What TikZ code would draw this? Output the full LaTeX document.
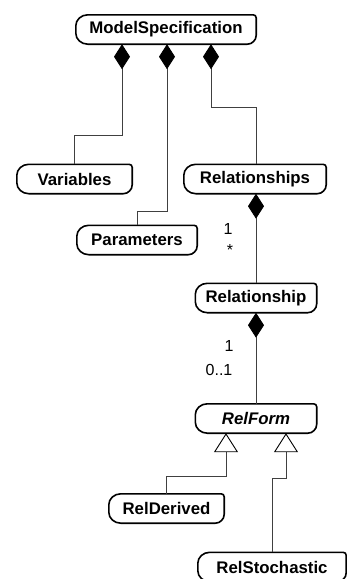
\documentclass[tikz,border=0pt]{standalone}
\usepackage{fontspec}
\setmainfont{Liberation Sans}
\usetikzlibrary{arrows.meta}

\begin{document}
\begin{tikzpicture}[x=1pt,y=1pt,
    class node/.style={inner sep=0pt,minimum height=29pt,
      font=\fontsize{16.8}{19}\selectfont\bfseries},
    frame/.style={line width=1.6pt,black},
    mult/.style={font=\fontsize{16}{19}\selectfont},
    link/.style={line width=0.8pt,black!75},
    comp/.style={link,{Diamond[length=25pt,width=16pt,black]}-},
    gen/.style={link,-{Triangle[open,length=19pt,width=24pt,line width=0.9pt,black]}}]
    \useasboundingbox (0,0) rectangle (347,-579);
    \node[class node,minimum width=180pt] (ms) at (166,-29.5) {ModelSpecification};
    \node[class node,minimum width=115pt] (var) at (74.5,-179) {Variables};
    \node[class node,minimum width=120pt] (par) at (137,-240) {Parameters};
    \node[class node,minimum width=142pt] (rels) at (255,-179) {Relationships};
    \node[class node,minimum width=121pt] (rel) at (256,-298) {Relationship};
    \node[class node,minimum width=121pt] (rf) at (256,-418.5) {\itshape RelForm};
    \node[class node,minimum width=115pt] (rd) at (166.5,-508.5) {RelDerived};
    \node[class node,minimum width=148pt] (rs) at (272,-567) {RelStochastic};
    % rounded class boxes
    \foreach \n in {ms,var,par,rels,rel,rf,rd,rs}
      \draw[frame] ([xshift=12pt]\n.north west) -- ([xshift=-3pt]\n.north east)
        arc[start angle=90,end angle=0,radius=3pt] -- ([yshift=9pt]\n.south east)
        arc[start angle=0,end angle=-90,radius=9pt] -- ([xshift=12pt]\n.south west)
        arc[start angle=270,end angle=180,x radius=12pt,y radius=11pt]
        -- ([yshift=-11pt]\n.north west)
        arc[start angle=180,end angle=90,x radius=12pt,y radius=11pt] -- cycle;
    % multiplicities
    \node[mult] (m1) at (228,-229) {1};
    \node[mult] (m2) at (230,-250) {*};
    \node[mult] (m3) at (229,-346) {1};
    \node[mult] (m4) at (219,-370) {0..1};
    % composition
    \draw[comp] ([xshift=-44pt]ms.south) -- ++(0,-91) -| (var.north);
    \draw[comp] ([xshift=1pt]ms.south) -- ++(0,-167) -| (par.north);
    \draw[comp] ([xshift=45pt]ms.south) -- ++(0,-63) -| ([xshift=1pt]rels.north);
    \draw[comp] ([xshift=1pt]rels.south) -- (rel.north);
    \draw[comp] (rel.south) -- (rf.north);
    % generalisation
    \draw[gen] (rd.north) -- ++(0,17) -| ([xshift=-30pt]rf.south);
    \draw[gen] (rs.north) -- ++(0,74) -| ([xshift=30pt]rf.south);
\end{tikzpicture}
\end{document}
